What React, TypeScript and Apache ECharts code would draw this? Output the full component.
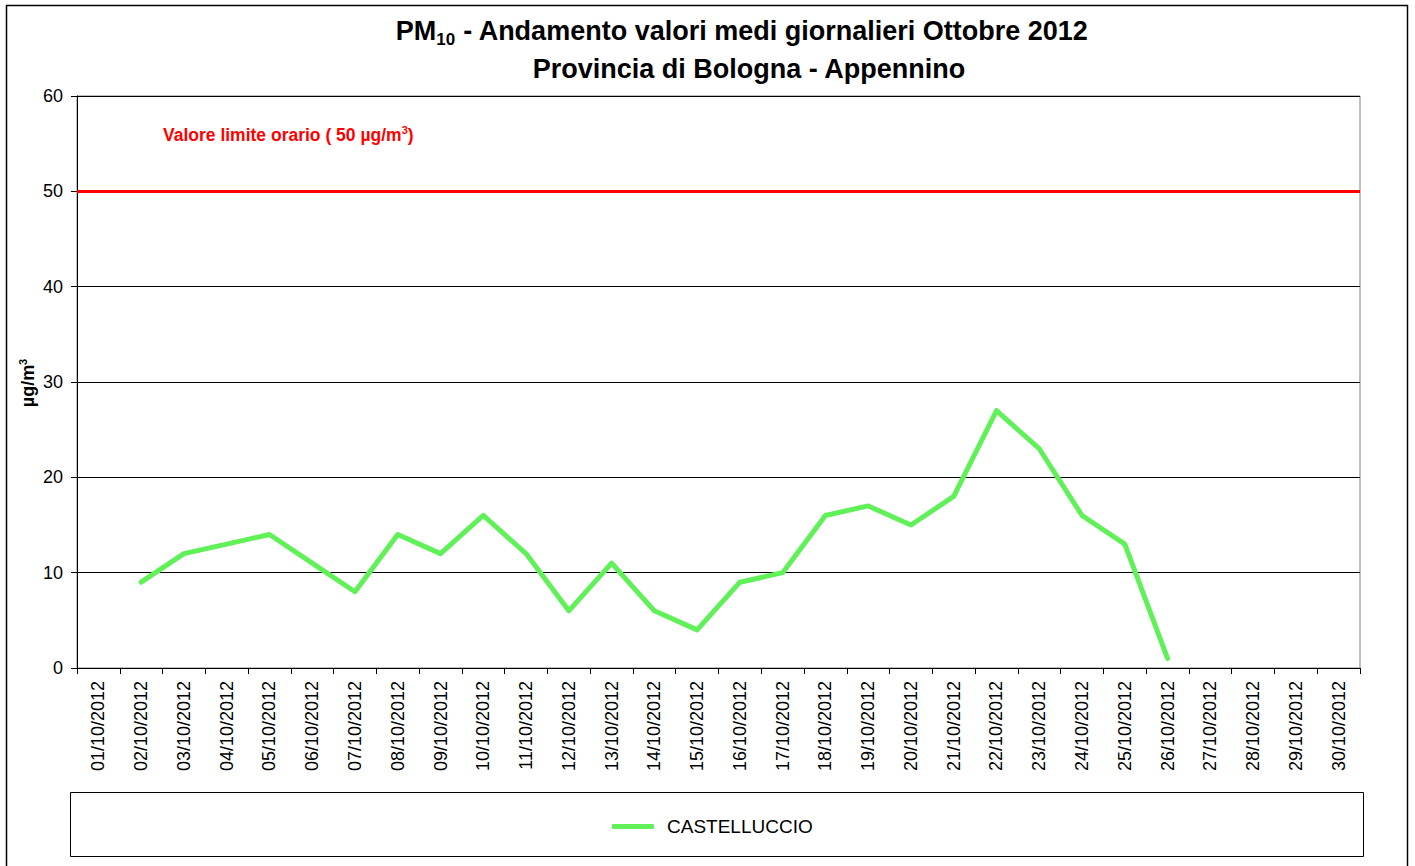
import React, { useEffect, useRef } from "react";
import * as echarts from "echarts";

const days: string[] = [
  "01/10/2012", "02/10/2012", "03/10/2012", "04/10/2012", "05/10/2012", "06/10/2012",
  "07/10/2012", "08/10/2012", "09/10/2012", "10/10/2012", "11/10/2012", "12/10/2012",
  "13/10/2012", "14/10/2012", "15/10/2012", "16/10/2012", "17/10/2012", "18/10/2012",
  "19/10/2012", "20/10/2012", "21/10/2012", "22/10/2012", "23/10/2012", "24/10/2012",
  "25/10/2012", "26/10/2012", "27/10/2012", "28/10/2012", "29/10/2012", "30/10/2012",
];

const castelluccio: (number | null)[] = [
  null, 9, 12, 13, 14, 11, 8, 14, 12, 16, 12, 6, 11, 6, 4, 9, 10, 16, 17, 15, 18, 27, 23, 16, 13, 1,
  null, null, null, null,
];

const limitValue = 50;
const yTicks = { min: 0, max: 60, interval: 10 };

const FONT = "'Liberation Sans', Arial, sans-serif";
const GREEN = "#60F058";

export default function App() {
  const ref = useRef<HTMLDivElement>(null);
  useEffect(() => {
    if (!ref.current) return;
    const chart = echarts.init(ref.current, undefined, { renderer: "svg" });
    chart.setOption({
      animation: false,
      backgroundColor: "#ffffff",
      textStyle: { fontFamily: FONT },
      title: [
        {
          text: "{b|PM}{sub|10}{b| - Andamento valori medi giornalieri Ottobre 2012}",
          left: 737,
          top: 9,
          textAlign: "center",
          textStyle: {
            rich: {
              b: { fontSize: 27, fontWeight: "bold", color: "#000", fontFamily: FONT, lineHeight: 34 },
              sub: { fontSize: 17, fontWeight: "bold", color: "#000", fontFamily: FONT, verticalAlign: "bottom", lineHeight: 34, padding: [12, 0, 0, 0] },
            },
          },
        },
        {
          text: "Provincia di Bologna - Appennino",
          left: 744,
          top: 50,
          textAlign: "center",
          textStyle: { fontSize: 27, fontWeight: "bold", color: "#000", fontFamily: FONT },
        },
      ],
      grid: {
        left: 77,
        right: 55,
        top: 96,
        bottom: 198,
        show: true,
        borderColor: "#808080",
        borderWidth: 1,
      },
      legend: {
        left: 607,
        top: 812,
        itemWidth: 42,
        itemHeight: 5,
        icon: "roundRect",
        textStyle: { fontSize: 19, color: "#000", fontFamily: FONT, padding: [0, 0, 0, 8] },
        data: [{ name: "CASTELLUCCIO", itemStyle: { color: GREEN } }],
      },
      xAxis: {
        type: "category",
        data: days,
        boundaryGap: true,
        axisLine: { show: true, lineStyle: { color: "#000", width: 1 } },
        axisTick: { show: true, interval: 0, length: 6, lineStyle: { color: "#000" } },
        axisLabel: {
          interval: 0,
          rotate: 90,
          fontSize: 18,
          color: "#000",
          margin: 13,
          fontFamily: FONT,
        },
        splitLine: { show: false },
      },
      yAxis: {
        type: "value",
        min: yTicks.min,
        max: yTicks.max,
        interval: yTicks.interval,
        axisLine: { show: true, lineStyle: { color: "#000", width: 1 } },
        axisTick: { show: true, length: 6, lineStyle: { color: "#000" } },
        axisLabel: { fontSize: 18, color: "#000", margin: 14, fontFamily: FONT },
        splitLine: { show: true, lineStyle: { color: "#000", width: 1 } },
      },
      series: [
        {
          name: "CASTELLUCCIO",
          type: "line",
          data: castelluccio,
          connectNulls: false,
          showSymbol: false,
          symbol: "none",
          lineStyle: { color: GREEN, width: 5, cap: "round", join: "round" },
          itemStyle: { color: GREEN },
          z: 3,
          markLine: {
            silent: true,
            symbol: "none",
            label: { show: false },
            lineStyle: { color: "#FF0000", width: 3, type: "solid" },
            data: [{ yAxis: limitValue }],
          },
        },
      ],
      graphic: [
        {
          type: "rect",
          shape: { x: 6.5, y: 5.5, width: 1401, height: 880 },
          style: { fill: "none", stroke: "#000", lineWidth: 1.5 },
          silent: true,
        },
        {
          type: "rect",
          shape: { x: 70.5, y: 792.5, width: 1293, height: 64 },
          style: { fill: "none", stroke: "#000", lineWidth: 1 },
          silent: true,
        },
        {
          type: "text",
          x: 163,
          y: 135,
          style: {
            text: "{r|Valore limite orario ( 50 µg/m}{s|3}{r|)}",
            verticalAlign: "middle",
            rich: {
              r: { fontSize: 17.5, fontWeight: "bold", fill: "#FF0000", fontFamily: FONT, lineHeight: 22 },
              s: { fontSize: 11, fontWeight: "bold", fill: "#FF0000", fontFamily: FONT, verticalAlign: "top", lineHeight: 22, padding: [0, 0, 9, 0] },
            },
          },
          silent: true,
        },
        {
          type: "text",
          x: 28,
          y: 383,
          rotation: Math.PI / 2,
          style: {
            text: "{r|µg/m}{s|3}",
            align: "center",
            verticalAlign: "middle",
            rich: {
              r: { fontSize: 18, fontWeight: "bold", fill: "#000", fontFamily: FONT, lineHeight: 22 },
              s: { fontSize: 11, fontWeight: "bold", fill: "#000", fontFamily: FONT, verticalAlign: "top", lineHeight: 22, padding: [0, 0, 9, 0] },
            },
          },
          silent: true,
        },
      ],
    });
    return () => chart.dispose();
  }, []);
  return (
    <div
      ref={ref}
      style={{ position: "absolute", left: 0, top: 0, width: 1415, height: 866 }}
    />
  );
}
